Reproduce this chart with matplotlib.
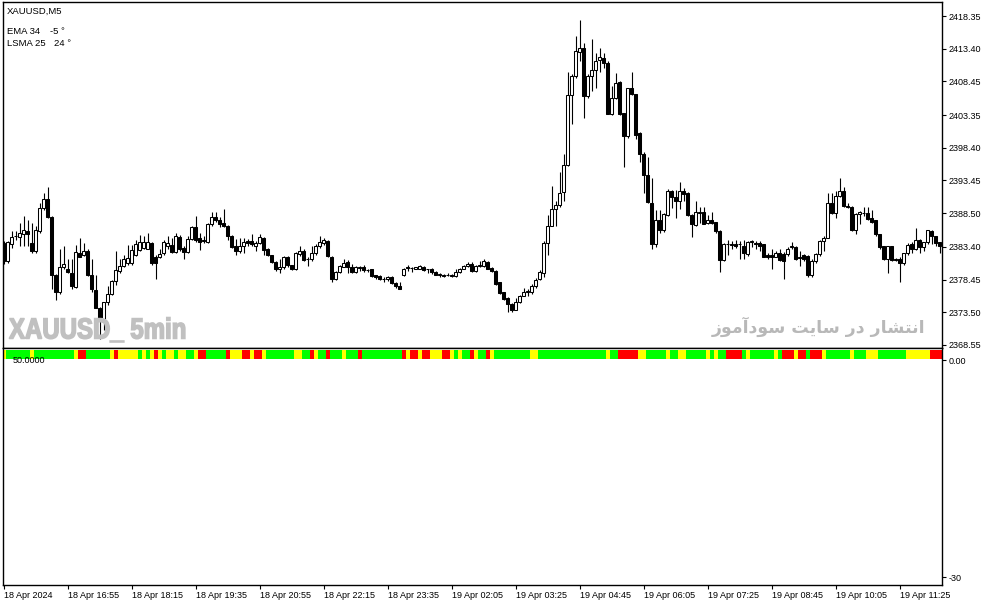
import numpy as np
import matplotlib
matplotlib.use("Agg")
import matplotlib.pyplot as plt
from matplotlib.textpath import TextPath
from matplotlib.patches import PathPatch
from matplotlib.font_manager import FontProperties
from matplotlib.transforms import Affine2D, IdentityTransform

plt.rcParams['font.family'] = ['Liberation Sans', 'DejaVu Sans']

# --- data (XAUUSD M5, 18 Apr 15:35 -> 19 Apr 11:45) ---
opens = [
    2384.0, 2381.3, 2383.9, 2385.0, 2384.9, 2385.4, 2385.8, 2384.0, 2382.7, 2385.8,
    2389.3, 2390.6, 2387.9, 2379.2, 2376.5, 2380.4, 2380.1, 2379.4, 2377.3, 2382.4,
    2382.2, 2382.7, 2379.2, 2376.9, 2374.2, 2372.4, 2375.0, 2376.2, 2378.2, 2379.8,
    2380.5, 2380.9, 2380.9, 2382.2, 2382.9, 2383.2, 2383.1, 2384.0, 2381.9, 2381.9,
    2382.4, 2383.5, 2383.7, 2382.6, 2384.9, 2383.2, 2382.6, 2384.6, 2386.4, 2384.7,
    2384.5, 2384.1, 2386.8, 2387.9, 2387.5, 2387.0, 2386.6, 2385.1, 2383.5, 2382.7,
    2383.5, 2384.3, 2384.3, 2383.6, 2384.0, 2384.8, 2383.0, 2382.1, 2381.1, 2380.0,
    2380.3, 2381.8, 2380.6, 2380.0, 2382.3, 2382.7, 2381.5, 2381.5, 2382.4, 2383.5,
    2384.0, 2384.3, 2381.9, 2378.5, 2379.6, 2380.4, 2381.1, 2380.4, 2379.6, 2380.2,
    2380.3, 2379.9, 2380.0, 2379.1, 2379.0, 2378.6, 2378.5, 2378.9, 2377.9, 2377.4,
    2379.1, 2380.3, 2380.2, 2380.1, 2380.1, 2380.4, 2380.0, 2380.1, 2379.6, 2379.2,
    2379.2, 2379.1, 2379.2, 2379.0, 2379.6, 2380.1, 2380.5, 2380.8, 2379.8, 2380.5,
    2380.5, 2381.1, 2380.2, 2379.8, 2378.0, 2376.5, 2375.6, 2374.8, 2373.9, 2375.0,
    2376.0, 2376.6, 2376.5, 2377.5, 2378.5, 2379.5, 2384.0, 2386.6, 2389.1, 2389.7,
    2391.7, 2395.8, 2406.4, 2409.3, 2412.9, 2413.5, 2406.2, 2409.3, 2410.1, 2411.7,
    2412.0, 2411.3, 2403.5, 2406.0, 2408.3, 2403.6, 2400.2, 2407.4, 2406.5, 2400.6,
    2397.5, 2394.3, 2390.0, 2383.9, 2387.4, 2386.0, 2388.2, 2391.8, 2391.0, 2390.3,
    2391.8, 2391.5, 2388.2, 2386.7, 2388.5, 2388.6, 2387.0, 2387.5, 2387.1, 2385.8,
    2381.4, 2383.8, 2383.8, 2383.9, 2383.8, 2383.6, 2382.3, 2384.2, 2384.0, 2384.0,
    2383.8, 2382.1, 2382.1, 2381.9, 2382.5, 2382.3, 2382.3, 2383.4, 2383.3, 2381.8,
    2382.1, 2382.0, 2379.1, 2381.3, 2382.3, 2384.3, 2384.8, 2390.0, 2388.5, 2391.1,
    2391.9, 2389.6, 2389.5, 2386.0, 2388.3, 2388.5, 2388.5, 2387.7, 2387.4, 2385.3,
    2383.5, 2381.5, 2383.5, 2381.6, 2381.6, 2380.9, 2382.4, 2383.8, 2383.0, 2384.4,
    2383.3, 2384.1, 2385.8, 2385.0, 2384.1,
]
highs = [
    2384.3, 2384.3, 2385.8, 2385.8, 2387.0, 2388.0, 2387.5, 2387.0, 2386.5, 2390.0,
    2391.5, 2392.5, 2388.0, 2379.3, 2383.0, 2383.5, 2381.5, 2381.5, 2383.7, 2384.7,
    2384.0, 2383.0, 2381.5, 2379.2, 2374.3, 2375.1, 2377.4, 2378.4, 2382.7, 2381.5,
    2382.1, 2383.7, 2383.7, 2384.5, 2385.2, 2385.0, 2385.5, 2384.2, 2382.2, 2383.0,
    2384.5, 2385.0, 2384.7, 2385.5, 2385.2, 2383.5, 2385.0, 2386.6, 2388.1, 2385.5,
    2385.0, 2387.0, 2388.7, 2388.7, 2387.9, 2389.1, 2386.7, 2385.2, 2384.6, 2384.7,
    2384.7, 2384.6, 2385.4, 2384.3, 2385.3, 2384.9, 2383.2, 2382.2, 2381.2, 2381.5,
    2382.0, 2382.0, 2380.7, 2382.6, 2383.5, 2383.0, 2381.8, 2383.5, 2383.8, 2385.1,
    2384.8, 2384.4, 2382.0, 2379.7, 2380.7, 2381.5, 2381.4, 2380.8, 2380.5, 2380.5,
    2380.6, 2380.1, 2380.1, 2379.2, 2379.1, 2378.8, 2379.0, 2379.0, 2378.0, 2378.0,
    2380.2, 2380.6, 2380.3, 2380.4, 2380.7, 2380.5, 2380.1, 2380.2, 2379.8, 2379.4,
    2379.3, 2379.4, 2379.3, 2380.1, 2380.2, 2380.7, 2381.1, 2381.1, 2380.6, 2381.3,
    2381.6, 2381.2, 2380.3, 2379.9, 2378.1, 2376.6, 2375.8, 2374.9, 2375.6, 2376.1,
    2377.1, 2377.0, 2377.8, 2378.7, 2379.9, 2384.3, 2388.2, 2392.6, 2390.3, 2394.7,
    2397.5, 2409.8, 2409.5, 2415.3, 2417.8, 2414.3, 2409.5, 2414.8, 2412.8, 2413.5,
    2412.8, 2411.5, 2407.8, 2409.7, 2408.5, 2403.7, 2407.5, 2409.9, 2406.6, 2400.8,
    2397.7, 2397.0, 2393.8, 2389.0, 2389.0, 2388.5, 2392.2, 2392.0, 2392.0, 2393.2,
    2392.3, 2391.7, 2388.4, 2390.3, 2389.4, 2389.5, 2388.2, 2388.6, 2387.2, 2385.9,
    2384.0, 2384.5, 2384.3, 2384.5, 2384.3, 2384.5, 2384.3, 2384.5, 2384.3, 2384.3,
    2383.9, 2382.5, 2383.0, 2382.8, 2383.0, 2382.6, 2383.4, 2384.1, 2383.5, 2382.8,
    2382.3, 2382.1, 2381.5, 2382.5, 2384.5, 2385.0, 2391.6, 2391.5, 2391.8, 2393.8,
    2392.5, 2390.0, 2389.6, 2388.5, 2388.8, 2389.4, 2389.5, 2388.9, 2387.5, 2385.4,
    2383.6, 2383.6, 2383.6, 2381.7, 2381.9, 2382.5, 2384.0, 2384.2, 2386.2, 2384.6,
    2384.2, 2386.0, 2385.9, 2385.1, 2384.2,
]
lows = [
    2380.8, 2381.0, 2383.2, 2384.5, 2383.5, 2383.5, 2383.5, 2382.5, 2382.5, 2385.5,
    2389.0, 2387.7, 2377.0, 2375.3, 2376.2, 2380.1, 2379.4, 2377.0, 2377.2, 2381.8,
    2382.0, 2379.0, 2376.5, 2374.1, 2369.4, 2370.8, 2374.6, 2376.1, 2377.6, 2379.4,
    2380.4, 2380.7, 2380.7, 2382.0, 2382.7, 2383.0, 2383.0, 2380.7, 2378.5, 2381.7,
    2382.2, 2383.0, 2382.5, 2382.5, 2382.7, 2381.5, 2382.4, 2384.5, 2384.2, 2382.9,
    2384.0, 2384.0, 2386.6, 2387.2, 2386.4, 2386.4, 2384.4, 2383.2, 2382.1, 2382.5,
    2382.4, 2383.5, 2383.6, 2382.7, 2383.8, 2382.1, 2382.0, 2381.0, 2379.7, 2379.5,
    2380.0, 2380.3, 2379.9, 2379.9, 2382.0, 2381.2, 2380.5, 2381.2, 2382.2, 2383.2,
    2383.7, 2381.8, 2378.0, 2378.4, 2379.5, 2380.3, 2379.5, 2379.5, 2379.5, 2379.8,
    2379.6, 2379.6, 2378.9, 2378.6, 2378.4, 2378.1, 2378.2, 2377.8, 2377.1, 2377.0,
    2379.0, 2379.8, 2379.6, 2380.0, 2380.0, 2379.8, 2379.5, 2379.3, 2379.1, 2378.9,
    2378.9, 2379.0, 2378.9, 2378.9, 2379.5, 2380.0, 2380.3, 2379.6, 2379.6, 2380.4,
    2380.4, 2380.0, 2379.6, 2377.6, 2376.3, 2375.4, 2373.6, 2373.5, 2373.8, 2374.9,
    2375.9, 2376.0, 2376.3, 2377.2, 2378.4, 2378.9, 2382.2, 2386.5, 2386.6, 2389.5,
    2390.3, 2395.7, 2402.0, 2409.0, 2411.5, 2402.9, 2406.0, 2407.0, 2407.4, 2409.9,
    2410.5, 2403.5, 2403.4, 2405.8, 2403.3, 2395.5, 2399.9, 2406.4, 2399.7, 2396.2,
    2391.5, 2390.0, 2383.0, 2383.4, 2385.5, 2385.7, 2388.0, 2389.3, 2387.7, 2389.2,
    2390.4, 2388.0, 2384.9, 2386.6, 2387.0, 2386.8, 2386.9, 2386.8, 2385.5, 2379.6,
    2381.2, 2382.2, 2383.0, 2383.2, 2381.6, 2381.5, 2382.0, 2383.3, 2383.0, 2382.8,
    2381.8, 2381.6, 2380.1, 2381.8, 2381.3, 2378.6, 2382.0, 2383.0, 2381.4, 2380.5,
    2381.3, 2378.9, 2378.9, 2380.9, 2382.0, 2382.8, 2384.7, 2388.4, 2387.8, 2391.0,
    2389.5, 2389.3, 2385.8, 2385.3, 2386.8, 2388.1, 2387.5, 2387.0, 2385.1, 2383.1,
    2381.4, 2379.4, 2381.2, 2381.2, 2378.0, 2380.7, 2382.2, 2382.5, 2382.9, 2382.5,
    2382.8, 2383.9, 2383.8, 2383.6, 2382.5,
]
closes = [
    2381.3, 2384.1, 2384.9, 2385.1, 2385.5, 2385.9, 2385.3, 2382.7, 2386.0, 2389.3,
    2390.6, 2387.9, 2379.2, 2376.5, 2380.4, 2380.8, 2379.6, 2377.5, 2382.6, 2381.9,
    2382.8, 2379.2, 2377.0, 2374.2, 2372.3, 2375.0, 2376.2, 2378.2, 2379.9, 2380.5,
    2381.6, 2381.7, 2382.9, 2383.9, 2384.2, 2384.2, 2384.2, 2381.0, 2381.0, 2382.3,
    2384.1, 2384.0, 2382.6, 2385.0, 2383.0, 2382.6, 2384.6, 2386.4, 2384.5, 2384.2,
    2384.3, 2386.8, 2387.9, 2387.4, 2386.9, 2386.5, 2385.0, 2383.4, 2382.7, 2383.6,
    2384.2, 2384.0, 2383.8, 2384.0, 2384.9, 2382.9, 2382.1, 2381.1, 2380.0, 2380.4,
    2381.8, 2380.6, 2380.0, 2382.4, 2382.8, 2381.4, 2381.5, 2382.5, 2383.5, 2384.2,
    2384.5, 2382.0, 2378.5, 2379.6, 2380.5, 2381.0, 2380.3, 2379.6, 2380.3, 2380.3,
    2379.9, 2379.9, 2379.0, 2378.8, 2378.6, 2378.5, 2378.9, 2377.9, 2377.4, 2377.0,
    2380.0, 2380.2, 2380.2, 2380.3, 2380.5, 2379.9, 2380.0, 2379.6, 2379.2, 2379.2,
    2379.0, 2379.2, 2379.0, 2379.6, 2380.1, 2380.5, 2380.8, 2379.8, 2380.5, 2380.7,
    2381.2, 2380.1, 2379.7, 2377.8, 2376.4, 2375.5, 2374.8, 2373.9, 2375.0, 2376.0,
    2376.6, 2376.7, 2377.5, 2378.4, 2379.6, 2384.0, 2386.6, 2389.2, 2389.8, 2391.6,
    2395.8, 2406.4, 2409.3, 2413.0, 2413.5, 2406.2, 2409.3, 2410.2, 2411.6, 2412.2,
    2411.3, 2403.5, 2406.0, 2408.2, 2403.5, 2400.2, 2407.4, 2406.5, 2400.4, 2397.4,
    2394.3, 2390.2, 2383.9, 2387.4, 2385.9, 2388.3, 2391.9, 2391.0, 2390.3, 2391.8,
    2391.4, 2388.2, 2386.8, 2388.7, 2388.6, 2386.9, 2387.5, 2387.0, 2385.8, 2381.4,
    2383.9, 2383.9, 2383.7, 2383.5, 2383.9, 2382.4, 2384.2, 2384.2, 2383.9, 2383.6,
    2381.9, 2381.9, 2381.9, 2382.5, 2381.4, 2381.3, 2383.0, 2383.5, 2381.5, 2381.7,
    2381.6, 2379.1, 2381.3, 2382.3, 2384.3, 2384.8, 2390.0, 2388.5, 2391.1, 2391.9,
    2389.6, 2389.4, 2386.0, 2388.3, 2388.6, 2388.5, 2387.6, 2387.1, 2385.3, 2383.3,
    2381.5, 2383.5, 2381.4, 2381.4, 2380.9, 2382.4, 2383.7, 2383.1, 2384.4, 2383.4,
    2384.1, 2385.9, 2385.0, 2384.0, 2383.5,
]

# trend strip colour per candle: G = green, Y = yellow, R = red
strip = (
    "YGGGGGGYGGGGGGGGGGYRRGGGGGGYRYYYYYGYGYRYGYYGYYGGYRR"   # 0-50
    "GGGGGRYYYRRYRRYGGGGGGGYYGGRYGGRGGGYGGGRGGGGGGGGGG"     # 51-99
    "RYRRYRRYYYRRYGYGGRYGGRYGGGGGGGGGYYGGGGGGGGGGGGGGGGGY"  # 100-151
    "GGRRRRRYYGGGGGYGGYYGGGGGYGYGGRRRRGYGGGGGGYGRRRYRR"     # 152-200
    "GRRRYGGGGGGYGGGYYYGGGGGGGYYYYYYRRR"                    # 201-234
)
strip_colors = {"G": "#00ff00", "Y": "#ffff00", "R": "#ff0000"}

price_ticks = [2418.35, 2413.40, 2408.45, 2403.35, 2398.40, 2393.45,
               2388.50, 2383.40, 2378.45, 2373.50, 2368.55]
time_labels = ["18 Apr 2024", "18 Apr 16:55", "18 Apr 18:15", "18 Apr 19:35",
               "18 Apr 20:55", "18 Apr 22:15", "18 Apr 23:35", "19 Apr 02:05",
               "19 Apr 03:25", "19 Apr 04:45", "19 Apr 06:05", "19 Apr 07:25",
               "19 Apr 08:45", "19 Apr 10:05", "19 Apr 11:25"]
bars_per_label = 16

assert len(opens) == len(highs) == len(lows) == len(closes) == len(strip)

o = np.array(opens)
h = np.array(highs)
l = np.array(lows)
c = np.array(closes)
idx = np.arange(len(c))

W, H = 987, 605
fig = plt.figure(figsize=(W / 100, H / 100), dpi=100)
fig.patch.set_facecolor("white")

ax = fig.add_axes([3 / W, 1 - 348 / H, 939 / W, 346 / H])
ax_sub = fig.add_axes([3 / W, 1 - 585 / H, 939 / W, 237 / H])

# candles
ax.vlines(idx, l, h, color="black", linewidth=0.8, zorder=2)
body_lo = np.minimum(o, c)
body_h = np.maximum(np.abs(c - o), 0.04)
body_col = np.where(c >= o, "white", "black")
ax.bar(idx, body_h, bottom=body_lo, width=0.62, color=body_col,
       edgecolor="black", linewidth=0.75, zorder=3)

ax.set_xlim(-0.125, 234.6)
ax.set_ylim(2368.08, 2420.47)
ax.set_xticks([])
ax.yaxis.tick_right()
ax.set_yticks(price_ticks)
ax.set_yticklabels([f"{v:.2f}" for v in price_ticks])
ax.tick_params(axis="y", length=3, width=0.8, pad=2, labelsize=6.5, colors="black")
for s in ax.spines.values():
    s.set_linewidth(1)
    s.set_color("black")

# indicator strip
ax_sub.bar(idx, 1.18, bottom=0.2, width=1.0,
           color=[strip_colors[k] for k in strip], linewidth=0, antialiased=False)
ax_sub.set_xlim(-0.125, 234.6)
ax_sub.set_ylim(-31.1, 1.66)
ax_sub.yaxis.tick_right()
ax_sub.set_yticks([0, -30])
ax_sub.set_yticklabels(["0.00", "-30"])
ax_sub.tick_params(axis="y", length=3, width=0.8, pad=2, labelsize=6.5)
tick_pos = np.arange(len(time_labels)) * bars_per_label
ax_sub.set_xticks(tick_pos)
ax_sub.set_xticklabels(time_labels)
for lab in ax_sub.get_xticklabels():
    lab.set_horizontalalignment("left")
ax_sub.tick_params(axis="x", length=3, width=0.8, pad=1.5, labelsize=6.5)
for s in ax_sub.spines.values():
    s.set_linewidth(1)
    s.set_color("black")
ax_sub.text(10 / 939, 0, "50.0000", transform=ax_sub.get_yaxis_transform(),
            fontsize=6.5, va="center", ha="left")


def px(x, y):
    return x / W, 1 - y / H


# header texts
fig.text(*px(7, 11.5), "XAUUSD,M5", fontsize=6.8, va="center")
fig.text(*px(7, 32), "EMA 34", fontsize=6.8, va="center")
fig.text(*px(50, 32), "-5 \u00b0", fontsize=6.8, va="center")
fig.text(*px(7, 44), "LSMA 25", fontsize=6.8, va="center")
fig.text(*px(54, 44), "24 \u00b0", fontsize=6.8, va="center")

# watermark, condensed heavy
wm = TextPath((0, 0), "XAUUSD_ 5min", size=10,
              prop=FontProperties(family="Liberation Sans", weight="bold"))
wm_tr = Affine2D().scale(2.4, 2.9).translate(9, H - 338.5)
fig.add_artist(PathPatch(wm, transform=wm_tr + IdentityTransform(),
                         facecolor="#c0c0c0", edgecolor="#c0c0c0", linewidth=1.1))

# "انتشار در سایت سودآموز" written in presentation forms, visual order
fa_words = ["\uFEAF\uFEEE\uFEE3\uFE81\uFEA9\uFEEE\uFEB3",
            "\uFE96\uFBFE\uFE8E\uFEB3",
            "\uFEAD\uFEA9",
            "\uFEAD\uFE8E\uFEB8\uFE98\uFEE7\uFE8D"]
fig.text(*px(925, 333), " ".join(fa_words), fontsize=12.5, fontweight="bold",
         color="#b8b8b8", ha="right", va="baseline", family=["DejaVu Sans"])

fig.savefig("out.png", dpi=100, facecolor="white")
